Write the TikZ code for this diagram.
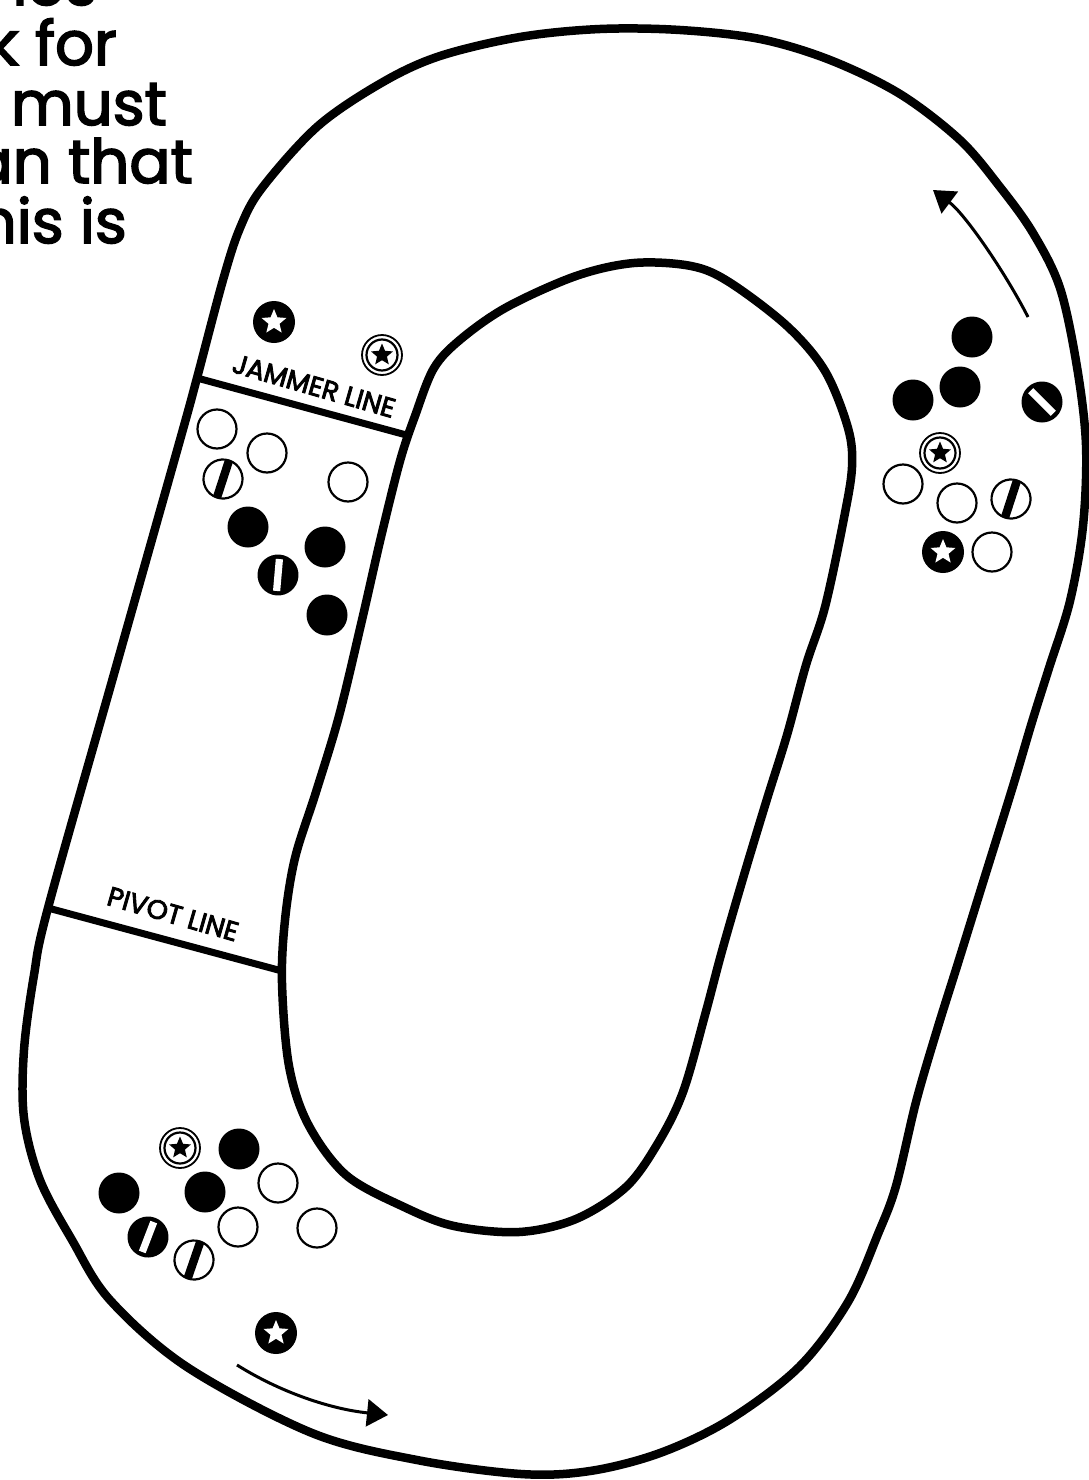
\documentclass[tikz,border=0pt]{standalone}
\usepackage{fontspec}
\setmainfont{Poppins}
\newfontfamily\bodyfont{Poppins}[FakeBold=2.6]
\newfontfamily\labelfont{Poppins}[FakeBold=3.2]
\usetikzlibrary{arrows.meta}
\tikzset{
  ring/.style={line width=2.2pt},
  pics/blk/.style={code={\fill (0,0) circle (20.5);}},
  pics/wht/.style={code={\draw[ring, fill=white] (0,0) circle (19.5);}},
  pics/jamB/.style={code={
    \fill (0,0) circle (21);
    \fill[white] (90:13)--(126:5.8)--(162:13)--(198:5.8)--(234:13)--(270:5.8)--(306:13)--(342:5.8)--(18:13)--(54:5.8)--cycle;}},
  pics/jamW/.style={code={
    \draw[line width=1.8pt, fill=white] (0,0) circle (20);
    \draw[line width=2.2pt] (0,0) circle (15.5);
    \fill (90:11.5)--(126:5.2)--(162:11.5)--(198:5.2)--(234:11.5)--(270:5.2)--(306:11.5)--(342:5.2)--(18:11.5)--(54:5.2)--cycle;}},
  pics/pivB/.style={code={
    \fill (0,0) circle (20.5);
    \fill[white] (-3.6,-16) rectangle (3.6,16);}},
  pics/pivW/.style={code={
    \draw[ring, fill=white] (0,0) circle (19.5);
    \begin{scope}\clip (0,0) circle (19.5);
      \fill (-4.2,-21) rectangle (4.2,21);
    \end{scope}}},
}
\begin{document}
\begin{tikzpicture}[x=1pt,y=1pt,
  trk/.style={line width=8.5pt, line join=round},
  zoneline/.style={line width=7pt},
  arr/.style={line width=3pt, -{Triangle[length=21pt,width=27pt]}},
  lbl/.style={font=\labelfont\fontsize{27}{32}\selectfont, inner sep=0pt},
  body/.style={font=\bodyfont\fontsize{61}{70}\selectfont, inner sep=0pt, anchor=base east},
]
\useasboundingbox (0,0) rectangle (1088,-1480);
\fill[white] (0,0) rectangle (1088,-1480);

% text fragments at top left
\node[body] (t1) at (97,-5) {nes};
\node[body] (t2) at (117,-65) {k for};
\node[body] (t3) at (167,-125) {t must};
\node[body] (t4) at (193,-183) {an that};
\node[body] (t5) at (127,-243) {his is};

% outer boundary
\draw[trk] plot[smooth cycle, tension=0.55] coordinates {
 (223,-280) (240,-228) (262,-188) (318,-126) (383,-82) (440,-56) (520,-37) (600,-29)
 (680,-30) (760,-39) (830,-60) (900,-94) (960,-140) (1000,-187) (1033,-233)
 (1060,-288) (1077,-367) (1086,-445) (1083,-526) (1070,-601) (1049,-668)
 (1032,-722) (1013,-786) (985,-876) (958,-963) (937,-1030) (916,-1102)
 (896,-1186) (878,-1234) (848,-1302) (799,-1367) (729,-1420) (660,-1453)
 (590,-1471) (521,-1474) (417,-1460) (312,-1433) (187,-1367) (110,-1300)
 (72,-1240) (40,-1180) (24,-1118) (24,-1050) (34,-975) (48,-908)
 (114,-674) (180,-440) (197,-378)};

% inner boundary
\draw[trk] plot[smooth cycle, tension=0.55] coordinates {
 (434,-368) (461,-339) (507,-307) (576,-276) (634,-263) (691,-266) (729,-282)
 (787,-326) (825,-371) (848,-428) (852,-467) (844,-518) (825,-607) (806,-665)
 (787,-735) (767,-799) (744,-875) (722,-951) (705,-1015) (683,-1092)
 (658,-1143) (626,-1187) (576,-1219) (519,-1232) (454,-1226) (404,-1207)
 (346,-1175) (308,-1124) (289,-1066) (282,-983) (285,-920) (295,-858)
 (316,-792) (339,-716) (362,-620) (381,-537) (400,-461) (415,-416)};

% jammer and pivot lines
\coordinate (jl1) at (197,-378);
\coordinate (jl2) at (410,-436);
\coordinate (pl1) at (48,-908);
\coordinate (pl2) at (282,-971);
\draw[zoneline] (jl1) -- (jl2);
\draw[zoneline] (pl1) -- (pl2);
\node[lbl, rotate=-16] (jammerlbl) at (314,-386) {JAMMER LINE};
\node[lbl, rotate=-16] (pivotlbl) at (173,-914) {PIVOT LINE};

% direction arrows
\coordinate (a1s) at (1028,-317);
\coordinate (a1e) at (933,-190);
\draw[arr] (a1s) .. controls (1005,-272) and (965,-214) .. (a1e);
\coordinate (a2s) at (237,-1365);
\coordinate (a2e) at (388,-1415);
\draw[arr] (a2s) .. controls (280,-1392) and (330,-1409) .. (a2e);

% pack at jammer line
\pic at (274,-322) {jamB};
\pic at (382,-355) {jamW};
\pic at (217,-429) {wht};
\pic at (267,-453) {wht};
\pic[rotate=-18] at (223,-479) {pivW};
\pic at (348,-482) {wht};
\pic at (248,-527) {blk};
\pic at (325,-547) {blk};
\pic[rotate=-5] at (278,-575) {pivB};
\pic at (327,-615) {blk};

% pack at right turn
\pic at (972,-337) {blk};
\pic at (960,-387) {blk};
\pic at (913,-400) {blk};
\pic[rotate=45] at (1042,-402) {pivB};
\pic at (940,-453) {jamW};
\pic at (903,-484) {wht};
\pic at (957,-503) {wht};
\pic[rotate=-18] at (1011,-499) {pivW};
\pic at (943,-552) {jamB};
\pic at (992,-552) {wht};

% pack at bottom turn
\pic at (180,-1148) {jamW};
\pic at (239,-1149) {blk};
\pic at (119,-1193) {blk};
\pic at (205,-1192) {blk};
\pic at (278,-1183) {wht};
\pic[rotate=-21] at (148,-1237) {pivB};
\pic at (238,-1227) {wht};
\pic at (317,-1228) {wht};
\pic[rotate=-19] at (194,-1260) {pivW};
\pic at (276,-1333) {jamB};
\end{tikzpicture}
\end{document}
